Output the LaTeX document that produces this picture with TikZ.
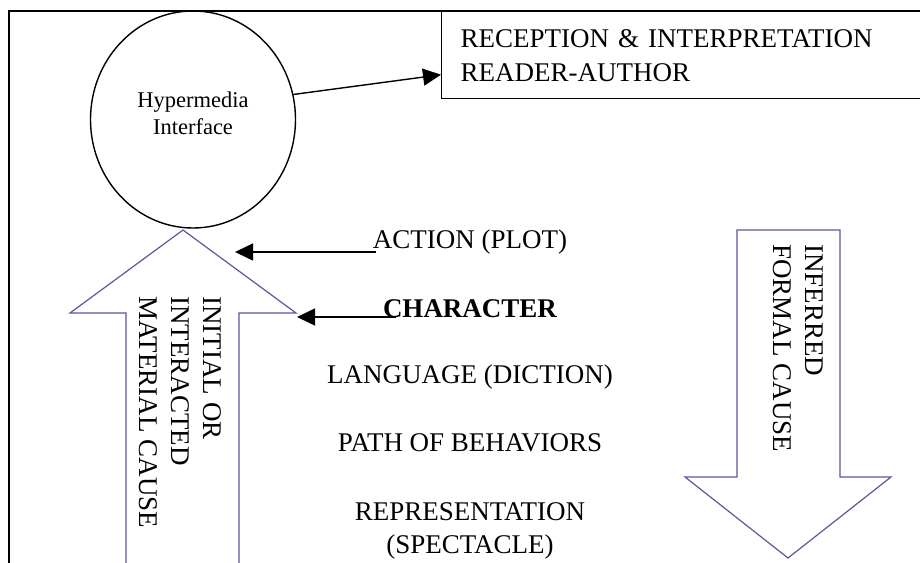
\documentclass[tikz,border=0pt]{standalone}
\usepackage{fontspec}
\setmainfont{Liberation Serif}
\usepackage{tikz}
\usetikzlibrary{shapes.geometric, arrows.meta}
\definecolor{causeblue}{RGB}{88,88,160}
\tikzstyle{hyper} = [ellipse, draw=black, line width=0.7pt, minimum width=102.5pt, minimum height=108.5pt, inner sep=0pt, text depth=6pt, align=center, font=\fontsize{11.25}{13.5}\selectfont]
\tikzstyle{recbox} = [rectangle, draw=black, line width=0.7pt, minimum height=43.5pt, text width=240pt, inner xsep=9.5pt, inner ysep=0pt, align=left, anchor=north west, font=\fontsize{13.5}{17}\selectfont]
\tikzstyle{level} = [inner sep=0pt, anchor=base, align=center, font=\fontsize{13.5}{16.5}\selectfont]
\tikzstyle{cause} = [draw=causeblue, line width=0.6pt]
\tikzstyle{causetext} = [rotate=-90, anchor=north west, inner sep=0pt, align=left, font=\fontsize{13.5}{16}\selectfont]
\tikzstyle{arrow} = [line width=0.7pt, -{Triangle[length=9pt, width=8.5pt]}]

\begin{document}
\begin{tikzpicture}[x=0.5pt, y=-0.5pt]
\clip (0,0) rectangle (920,562);

%Frame==============================================
\draw[line width=1pt] (9,620) -- (9,11) -- (1000,11);

%Causes=============================================
\draw[cause] (126,620) -- (126,313) -- (70,313) -- (183,230) -- (296,313) -- (239,313) -- (239,620);
\node (material) [causetext] at (222,296) {INITIAL OR\\INTERACTED\\MATERIAL CAUSE};

\draw[cause] (737,230) -- (737,477) -- (685,477) -- (788,558) -- (891,477) -- (840,477) -- (840,230) -- cycle;
\node (formal) [causetext] at (824,244) {INFERRED\\FORMAL CAUSE};

%Interface and reception============================
\node (hyper) [hyper] at (193,119.5) {Hypermedia\\Interface};
\node (recep) [recbox] at (441,11) {RECEPTION \& INTERPRETATION\\READER-AUTHOR};

%Levels=============================================
\node (action) [level] at (470,248) {ACTION (PLOT)};
\node (char) [level] at (470,317) {\bfseries CHARACTER};
\node (lang) [level] at (470,383) {LANGUAGE (DICTION)};
\node (path) [level] at (470,451) {PATH OF BEHAVIORS};
\node (repr) [level] at (470,553) {REPRESENTATION\\(SPECTACLE)};

\coordinate (acttip) at (235,252);
\coordinate (chartip) at (297,317);
%===================================================
\draw [arrow] (hyper.14) -- ([yshift=-9.75pt]recep.west);
\draw [arrow] ([xshift=2pt, yshift=-2pt]action.base west) -- (acttip);
\draw [arrow] ([xshift=6.5pt]char.base west) -- (chartip);
\end{tikzpicture}
\end{document}
